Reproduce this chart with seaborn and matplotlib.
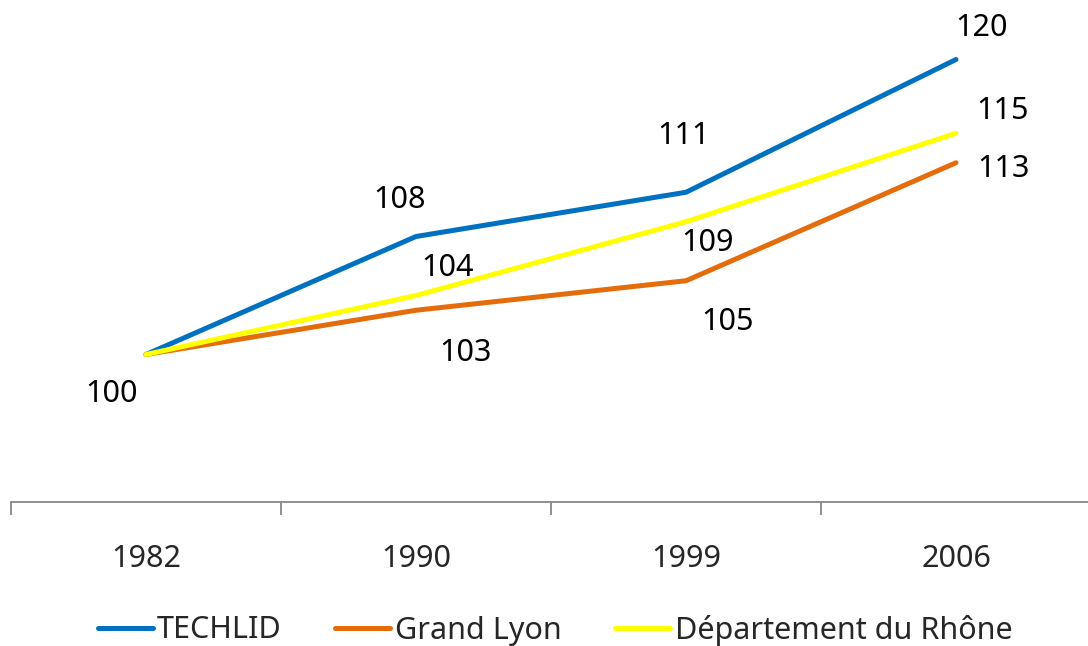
import matplotlib
matplotlib.use("Agg")
import matplotlib.pyplot as plt
import seaborn as sns
import pandas as pd

years = ["1982", "1990", "1999", "2006"]
techlid = [100, 108, 111, 120]
grand_lyon = [100, 103, 105, 113]
rhone = [100, 104, 109, 115]
series_names = ["TECHLID", "Grand Lyon", "Département du Rhône"]
colors = ["#0070C0", "#E46C0A", "#FFFF00"]

# label offsets in pixels (dx, dy) relative to each point
offsets = {
    "TECHLID": [(-34, -40), (-16, 37), (-2, 56), (26, 32)],
    "Grand Lyon": [None, (49, -43), (42, -41), (47, -6)],
    "Département du Rhône": [None, (32, 27), (22, -21), (47, 22)],
}

sns.set_theme(style="white")
plt.rcParams["font.family"] = ["Noto Sans", "DejaVu Sans"]

rows = []
for name, vals in zip(series_names, [techlid, grand_lyon, rhone]):
    for i, (y, v) in enumerate(zip(years, vals)):
        rows.append({"Année": i, "Valeur": v, "Série": name})
df = pd.DataFrame(rows)

fig = plt.figure(figsize=(10.88, 6.46), dpi=100)
W, H = 1088, 646
ax = fig.add_axes([11 / W, (646 - 502) / H, 1080 / W, 501.5 / H])

sns.lineplot(data=df, x="Année", y="Valeur", hue="Série", palette=colors,
             hue_order=series_names, linewidth=3.6, ax=ax, legend=True)
for line in ax.lines:
    line.set_solid_capstyle("round")
    line.set_clip_on(False)

ax.set_xlim(-0.5, 3.5)
ax.set_ylim(90, 124)

fs = 22
for name, vals in zip(series_names, [techlid, grand_lyon, rhone]):
    for i, v in enumerate(vals):
        off = offsets[name][i]
        if off is None:
            continue
        ax.annotate(str(v), (i, v), xytext=off, textcoords="offset pixels",
                    ha="center", va="center", fontsize=fs, color="black",
                    annotation_clip=False)

for s in ["top", "right", "left"]:
    ax.spines[s].set_visible(False)
ax.spines["bottom"].set_color("#878787")
ax.spines["bottom"].set_linewidth(1.3)
ax.set_yticks([])
ax.set_xticks(range(len(years)))
ax.set_xticklabels(years, fontsize=fs)
ax.set_xticks([-0.5, 0.5, 1.5, 2.5, 3.5], minor=True)
ax.tick_params(axis="x", which="major", length=0, pad=30.5)
ax.tick_params(axis="x", which="minor", length=9, width=1.3, color="#878787",
               direction="out", bottom=True)
ax.set_xlabel("")
ax.set_ylabel("")
ax.grid(False)

handles, labels = ax.get_legend_handles_labels()
for h in handles:
    h.set_linewidth(3.6)
    h.set_solid_capstyle("round")
ax.legend(handles, labels, loc="center", bbox_to_anchor=(555 / W, (646 - 630) / H),
          bbox_transform=fig.transFigure, ncol=3, frameon=False, fontsize=fs,
          handlelength=1.8, handletextpad=0.15, columnspacing=1.75,
          borderaxespad=0, borderpad=0)

fig.savefig("out.png", dpi=100)
